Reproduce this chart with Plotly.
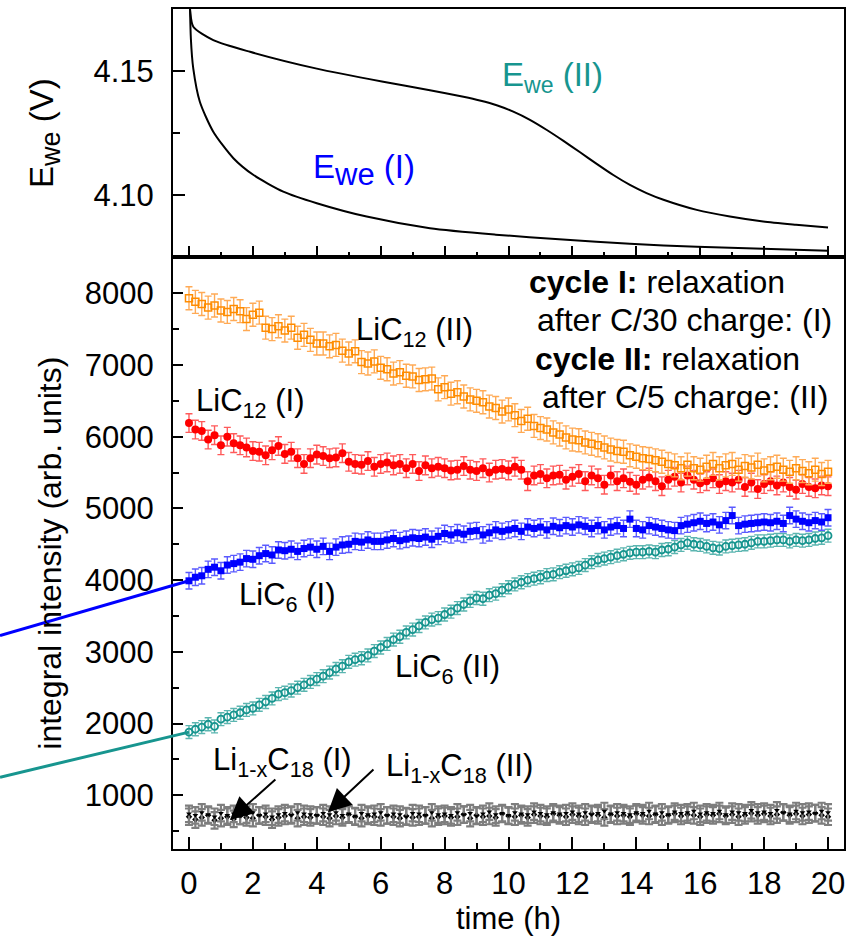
import plotly.graph_objects as go

# ---------------- data ----------------
# time axis of the XRD scans (h)
time_h = [round(i * 0.2, 1) for i in range(101)]

lic12_II = [7930, 7880, 7850, 7800, 7830, 7760, 7740, 7780, 7750, 7640,
            7700, 7730, 7520, 7500, 7540, 7480, 7520, 7380, 7420, 7350,
            7300, 7300, 7260, 7280, 7200, 7160, 7190, 7040, 7020, 7050,
            6960, 6940, 6880, 6900, 6850, 6840, 6790, 6800, 6810, 6660,
            6690, 6600, 6620, 6560, 6520, 6500, 6480, 6420, 6400, 6350,
            6380, 6300, 6220, 6250, 6150, 6120, 6100, 6060, 6030, 5990,
            5960, 5950, 5920, 5900, 5880, 5850, 5820, 5800, 5790, 5740,
            5720, 5700, 5690, 5670, 5650, 5620, 5600, 5560, 5610, 5560,
            5540, 5580, 5620, 5560, 5600, 5620, 5540, 5590, 5570, 5610,
            5530, 5560, 5580, 5540, 5510, 5560, 5520, 5490, 5540, 5480,
            5510]

lic12_I = [6190, 6100, 6080, 5960, 6020, 5880, 6000, 5910, 5880, 5850,
           5800, 5790, 5740, 5810, 5870, 5760, 5790, 5700, 5620, 5700,
           5750, 5730, 5700, 5710, 5770, 5650, 5620, 5610, 5660, 5580,
           5620, 5640, 5600, 5620, 5560, 5620, 5520, 5600, 5560, 5580,
           5560, 5530, 5540, 5590, 5540, 5520, 5560, 5500, 5540, 5550,
           5530, 5580, 5540, 5380, 5460, 5480, 5420, 5460, 5470, 5400,
           5440, 5480, 5380, 5460, 5420, 5330, 5460, 5380, 5420, 5370,
           5330, 5400, 5430, 5380, 5310, 5400, 5440, 5360, 5460, 5400,
           5350, 5380, 5420, 5340, 5380, 5360, 5400, 5300, 5360, 5270,
           5340, 5380, 5320, 5360, 5300, 5260, 5340, 5300, 5280, 5320,
           5310]

lic6_I = [3990, 4040, 4060, 4150, 4180, 4130, 4210, 4230, 4250, 4300,
          4290, 4340, 4370, 4350, 4420, 4410, 4430, 4400, 4440, 4460,
          4430, 4470, 4400, 4460, 4490, 4500, 4540, 4530, 4560, 4540,
          4540, 4560, 4580, 4550, 4570, 4590, 4580, 4600, 4570, 4610,
          4650, 4630, 4660, 4640, 4680, 4690, 4630, 4660, 4700, 4680,
          4700, 4720, 4680, 4740, 4720, 4740, 4700, 4750, 4730, 4760,
          4740, 4770, 4750, 4720, 4760, 4700, 4740, 4760, 4720, 4850,
          4720, 4700, 4760, 4740, 4720, 4700, 4690, 4760, 4780, 4800,
          4820, 4790, 4810, 4770, 4830, 4900, 4760, 4780, 4790, 4800,
          4810, 4800, 4820, 4790, 4900, 4850, 4820, 4800, 4830, 4810,
          4870]

lic6_II = [1880, 1920, 1950, 1990, 1960, 2060, 2090, 2120, 2150, 2190,
           2210, 2260, 2300, 2350, 2410, 2430, 2460, 2500, 2540, 2580,
           2620, 2660, 2710, 2760, 2800, 2860, 2890, 2910, 2950, 3010,
           3060, 3110, 3170, 3210, 3270, 3310, 3360, 3410, 3450, 3470,
           3520, 3560, 3610, 3660, 3710, 3750, 3740, 3790, 3810, 3860,
           3900, 3940, 3970, 4000, 4020, 4040, 4070, 4080, 4110, 4130,
           4150, 4170, 4210, 4250, 4280, 4300, 4320, 4340, 4360, 4380,
           4390, 4390, 4400, 4390, 4420, 4430, 4460, 4490, 4520, 4500,
           4490, 4470, 4450, 4440, 4470, 4480, 4490, 4500, 4520, 4540,
           4540, 4550, 4560, 4560, 4540, 4560, 4550, 4560, 4580, 4590,
           4620]

lic18_I = [700, 660, 690, 720, 650, 680, 700, 670, 710, 690,
           680, 720, 700, 660, 690, 710, 730, 680, 700, 690,
           720, 700, 680, 710, 690, 730, 700, 680, 710, 700,
           690, 720, 700, 680, 710, 690, 700, 720, 680, 700,
           710, 690, 700, 730, 680, 720, 700, 710, 690, 740,
           710, 700, 720, 690, 730, 710, 700, 740, 720, 700,
           730, 710, 700, 740, 720, 690, 730, 710, 720, 700,
           740, 720, 710, 730, 700, 720, 740, 710, 730, 720,
           700, 730, 720, 740, 710, 730, 700, 720, 750, 720,
           740, 710, 730, 760, 720, 740, 710, 730, 750, 720,
           700]

lic18_II = [740, 720, 760, 730, 700, 750, 720, 740, 710, 730,
            760, 720, 740, 700, 730, 750, 720, 760, 740, 730,
            720, 750, 730, 760, 720, 740, 710, 750, 730, 740,
            760, 720, 740, 730, 700, 750, 740, 720, 760, 730,
            740, 720, 760, 730, 750, 710, 740, 770, 730, 750,
            720, 760, 740, 730, 770, 750, 730, 760, 740, 750,
            770, 740, 760, 730, 750, 780, 740, 760, 750, 730,
            760, 750, 780, 740, 760, 730, 770, 750, 760, 780,
            740, 760, 750, 780, 730, 770, 760, 750, 790, 760,
            770, 750, 790, 760, 740, 780, 760, 770, 750, 780,
            760]

# error bar half-widths (arb. units)
err_lic12_II = 160
err_lic12_I = 130
err_lic6_I = 115
err_lic6_II = 90
err_lic18 = 115

# potential of the working electrode during relaxation
e_time_I = [0, 0.06, 0.135, 0.34, 0.76, 1.39, 2.01, 2.95, 4.0, 5.56, 7.54,
            9.6, 11.7, 13.8, 15.9, 17.97, 20.0]
e_we_I = [4.20, 4.163, 4.151, 4.1376, 4.1255, 4.1148, 4.1081, 4.1013, 4.0966,
          4.0912, 4.0865, 4.0839, 4.0819, 4.0802, 4.0790, 4.0782, 4.0774]
e_time_II = [0, 0.04, 0.135, 0.76, 1.91, 4.0, 6.08, 7.54, 8.59, 9.1, 9.63,
             10.15, 10.67, 11.2, 11.72, 12.24, 12.76, 13.28, 13.8, 14.32,
             14.85, 15.89, 16.93, 17.97, 19.0, 20.0]
e_we_II = [4.20, 4.174, 4.1679, 4.1625, 4.1578, 4.1510, 4.1457, 4.1423, 4.1396,
           4.1381, 4.1362, 4.1336, 4.1303, 4.1262, 4.1218, 4.1172, 4.1125,
           4.1080, 4.1040, 4.1007, 4.0980, 4.0939, 4.0912, 4.0892, 4.0879,
           4.0868]

x_ticks = [0, 2, 4, 6, 8, 10, 12, 14, 16, 18, 20]

# ---------------- colours ----------------
C_ORANGE, C_ORANGE_E = "#FF8C00", "#FFAA55"
C_RED, C_RED_E = "#FF0000", "#FF5A5A"
C_BLUE, C_BLUE_E = "#0000FF", "#5A5AFF"
C_TEAL, C_TEAL_E = "#17958F", "#5BB5B0"
C_GRAY_E = "#7E7E7E"

FONT = "Liberation Sans, Arial, sans-serif"

fig = go.Figure()

# top panel: potentials
fig.add_trace(go.Scatter(x=e_time_I, y=e_we_I, mode="lines", xaxis="x", yaxis="y",
                         line=dict(color="black", width=2, shape="spline", smoothing=0.7)))
fig.add_trace(go.Scatter(x=e_time_II, y=e_we_II, mode="lines", xaxis="x", yaxis="y",
                         line=dict(color="black", width=2, shape="spline", smoothing=0.7)))

def scan(y, err, color, ecolor, symbol, size, lw=1.5, eth=1.4, ew=3.5):
    return go.Scatter(
        x=time_h, y=y, mode="markers", xaxis="x2", yaxis="y2",
        marker=dict(symbol=symbol, size=size, color=color,
                    line=dict(color=color, width=lw)),
        error_y=dict(type="constant", value=err, color=ecolor, thickness=eth, width=ew),
    )

fig.add_trace(scan(lic18_I, err_lic18, "black", C_GRAY_E, "diamond", 5, 0, 2.2, 4))
fig.add_trace(scan(lic18_II, err_lic18, "black", C_GRAY_E, "triangle-down", 5, 0, 2.2, 4))
fig.add_trace(scan(lic6_II, err_lic6_II, C_TEAL, C_TEAL_E, "circle-open", 7, 1.8))
fig.add_trace(scan(lic6_I, err_lic6_I, C_BLUE, C_BLUE_E, "square", 7, 0))
fig.add_trace(scan(lic12_I, err_lic12_I, C_RED, C_RED_E, "circle", 8, 0))
fig.add_trace(scan(lic12_II, err_lic12_II, C_ORANGE, C_ORANGE_E, "square-open", 7, 1.5))

y_lo, y_hi = 250, 8500
split = 1 - 249 / 842.0
axis_common = dict(showline=True, linewidth=2, linecolor="black", mirror=True,
                   showgrid=False, zeroline=False, ticks="inside", tickwidth=2,
                   tickcolor="black",
                   tickfont=dict(family=FONT, size=31, color="black"))

fig.update_layout(
    width=856, height=936,
    margin=dict(l=173, r=12, t=7, b=87),
    plot_bgcolor="white", paper_bgcolor="white",
    showlegend=False,
    font=dict(family=FONT, size=31, color="black"),
    xaxis=dict(domain=[0, 1], anchor="y", range=[-0.5, 20.5], tickvals=x_ticks,
               showticklabels=False, ticklen=11,
               minor=dict(dtick=1, tick0=0, ticklen=5, ticks="inside", tickwidth=2,
                          tickcolor="black"),
               **axis_common),
    yaxis=dict(domain=[split, 1], anchor="x", range=[4.0747, 4.1751],
               tick0=4.1, dtick=0.05, tickformat=".2f", ticklen=12,
               ticklabelstandoff=11,
               minor=dict(dtick=0.025, tick0=4.1, ticklen=7, ticks="inside",
                          tickwidth=2, tickcolor="black"),
               title=dict(text='E<sub><span style="font-size:27px">we</span></sub> (V)',
                          font=dict(family=FONT, size=33), standoff=30),
               automargin=False,
               **axis_common),
    xaxis2=dict(domain=[0, 1], anchor="y2", range=[-0.5, 20.5], tickvals=x_ticks,
                ticklen=12, ticklabelstandoff=6,
                minor=dict(dtick=1, tick0=0, ticklen=6, ticks="inside", tickwidth=2,
                           tickcolor="black"),
                title=dict(text="time (h)", font=dict(family=FONT, size=31), standoff=4),
                automargin=False,
                **axis_common),
    yaxis2=dict(domain=[0, split], anchor="x2", range=[y_lo, y_hi],
                tick0=0, dtick=1000, ticklen=10, ticklabelstandoff=11,
                minor=dict(dtick=500, tick0=0, ticklen=6, ticks="inside", tickwidth=2,
                           tickcolor="black"),
                title=dict(text="integral intensity (arb. units)",
                           font=dict(family=FONT, size=32), standoff=14),
                automargin=False,
                **axis_common),
)

ann = []
def label(text, x, y, ref="2", color="black", size=31, xanchor="center"):
    ann.append(dict(text=text, x=x, y=y, xref="x" + ("" if ref == "1" else ref),
                    yref="y" + ("" if ref == "1" else ref), showarrow=False,
                    xanchor=xanchor, yanchor="middle",
                    font=dict(family=FONT, size=size, color=color)))

# top panel labels
label('E<sub><span style="font-size:31px">we</span></sub> (I)', 3.82, 4.1102,
      ref="1", color=C_BLUE, size=33, xanchor="left")
label('E<sub>we</sub> (II)', 9.73, 4.1477, ref="1", color=C_TEAL, size=33,
      xanchor="left")

# bottom panel labels
label("LiC<sub>12</sub> (II)", 7.07, 7459)
label("LiC<sub>12</sub> (I)", 1.91, 6473)
label("LiC<sub>6</sub> (I)", 3.07, 3764)
label("LiC<sub>6</sub> (II)", 8.08, 2764)
label("Li<sub>1-x</sub>C<sub>18</sub> (I)", 2.94, 1458)
label("Li<sub>1-x</sub>C<sub>18</sub> (II)", 8.48, 1375)

label("<b>cycle I:</b> relaxation", 10.58, 8153, size=32, xanchor="left")
label("after C/30 charge: (I)", 10.83, 7626, size=32, xanchor="left")
label("<b>cycle II:</b> relaxation", 10.76, 7084, size=32, xanchor="left")
label("after C/5 charge: (II)", 10.98, 6556, size=32, xanchor="left")

# arrows to the Li(1-x)C18 data
for tip_x, tip_y, ax, ay in [(1.28, 653, 47, -42), (4.35, 764, 47, -44)]:
    ann.append(dict(text="", x=tip_x, y=tip_y, xref="x2", yref="y2", showarrow=True,
                    ax=ax, ay=ay, arrowhead=2, arrowsize=2.3, arrowwidth=2,
                    arrowcolor="black", standoff=0))

fig.update_layout(annotations=ann)

# coloured connector lines leaving the chart to the left (paper coordinates)
def to_paper(t, v):
    return (t + 0.5) / 21.0, (v - y_lo) / (y_hi - y_lo) * split

bx, by = to_paper(time_h[0], lic6_I[0])
tx, ty = to_paper(time_h[0], lic6_II[0])
fig.add_shape(type="line", xref="paper", yref="paper", x0=-0.2578, y0=0.2542,
              x1=bx, y1=by, line=dict(color=C_BLUE, width=3), layer="above")
fig.add_shape(type="line", xref="paper", yref="paper", x0=-0.2578, y0=0.0855,
              x1=tx, y1=ty, line=dict(color=C_TEAL, width=3), layer="above")

fig.write_html("out.html", config={"displayModeBar": False},
               post_script="document.body.style.margin='0px';")
